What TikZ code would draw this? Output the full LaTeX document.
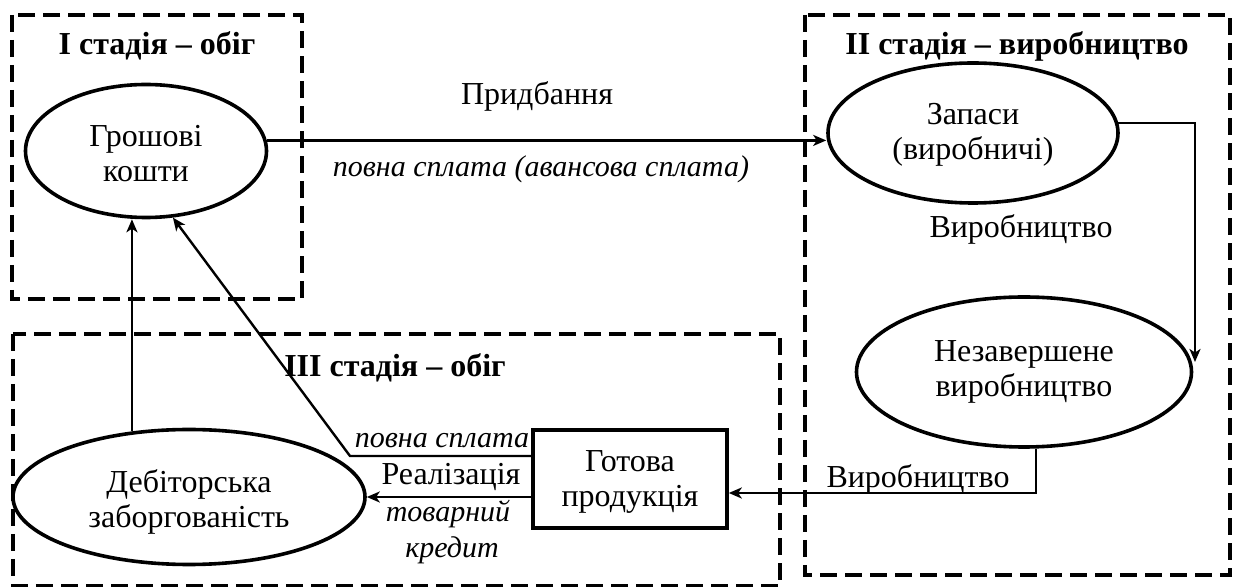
\documentclass[tikz,border=0pt]{standalone}
\usepackage{fontspec}
\setmainfont{Liberation Serif}
\usetikzlibrary{shapes.geometric,arrows.meta,calc}
\newcommand\twolines[4]{\rule{0pt}{#1}#3\\#4\rule[-#2]{0pt}{#2}}
\begin{document}
\begin{tikzpicture}[x=0.5pt,y=-0.5pt,
  every node/.style={font=\fontsize{16}{17.5}\selectfont},
  stage/.style={draw, line width=2pt, dash pattern=on 8.5pt off 4pt},
  oval/.style={ellipse, draw, line width=1.8pt, inner sep=0pt, align=center},
  boxnode/.style={rectangle, draw, line width=1.8pt, align=center, inner sep=0pt},
  conn/.style={line width=1.2pt, -{Stealth[length=6.5pt,width=5.5pt,inset=1.8pt]}},
  lbl/.style={anchor=base, inner sep=0pt},
  ilbl/.style={anchor=base, inner sep=0pt, font=\fontsize{15}{17.5}\selectfont\itshape},
  title/.style={anchor=base, inner sep=0pt, font=\fontsize{16}{17.5}\selectfont\bfseries}]
\useasboundingbox (0,0) rectangle (1239,587);
\fill[white] (0,0) rectangle (1239,587);

% stage frames
\draw[stage] (12,15) rectangle (302,299);
\draw[stage] (805,15) rectangle (1230,575);
\draw[stage] (13,334) rectangle (780,586);

% titles
\node[title] (s1) at (157,55) {I стадія – обіг};
\node[title] (s2) at (1017,55) {II стадія – виробництво};
\node[title] (s3) at (395,377) {III стадія – обіг};

% main nodes
\node[oval, minimum width=120.5pt, minimum height=66.5pt] (gk) at (146,151) {\twolines{17.5pt}{4pt}{Грошові}{кошти}};
\node[oval, minimum width=145pt, minimum height=70pt] (zap) at (973,133) {\twolines{13.5pt}{4pt}{Запаси}{(виробничі)}};
\node[oval, minimum width=167.5pt, minimum height=75pt] (nez) at (1024,372) {\twolines{12pt}{4.5pt}{Незавершене}{виробництво}};
\node[oval, minimum width=176pt, minimum height=67.5pt] (deb) at (189,497) {\twolines{17.5pt}{4pt}{Дебіторська}{заборгованість}};
\node[boxnode, minimum width=97pt, minimum height=49pt] (got) at (630,479) {\twolines{14.5pt}{4pt}{Готова}{продукція}};

% helper coordinates
\coordinate (nezin) at (1195,362);
\coordinate (bend) at (350,456);

% connectors
\draw[conn] (gk.5) -- (gk.5 -| zap.west);
\draw[conn] (zap.4) -| (nezin);
\draw[conn] (nez.279) |- ($(got.east)+(0,14)$);
\draw[conn] (got.west |- deb.east) -- (deb.east);
\draw[conn] ($(got.west)+(0,-23)$) -- (bend) -- (gk.292);
\draw[conn] (deb.131) -- (deb.131 |- gk.south);

% labels
\node[lbl] (l1) at (537,105) {Придбання};
\node[ilbl] (l2) at (541,177) {повна сплата (авансова сплата)};
\node[lbl] (l3) at (1021,238) {Виробництво};
\node[lbl] (l4) at (918,488) {Виробництво};
\node[ilbl] (l5) at (442,448) {повна сплата};
\node[lbl] (l6) at (451,485) {Реалізація};
\node[ilbl] (l7) at (448,522) {товарний};
\node[ilbl] (l8) at (452,558) {кредит};
\end{tikzpicture}
\end{document}
